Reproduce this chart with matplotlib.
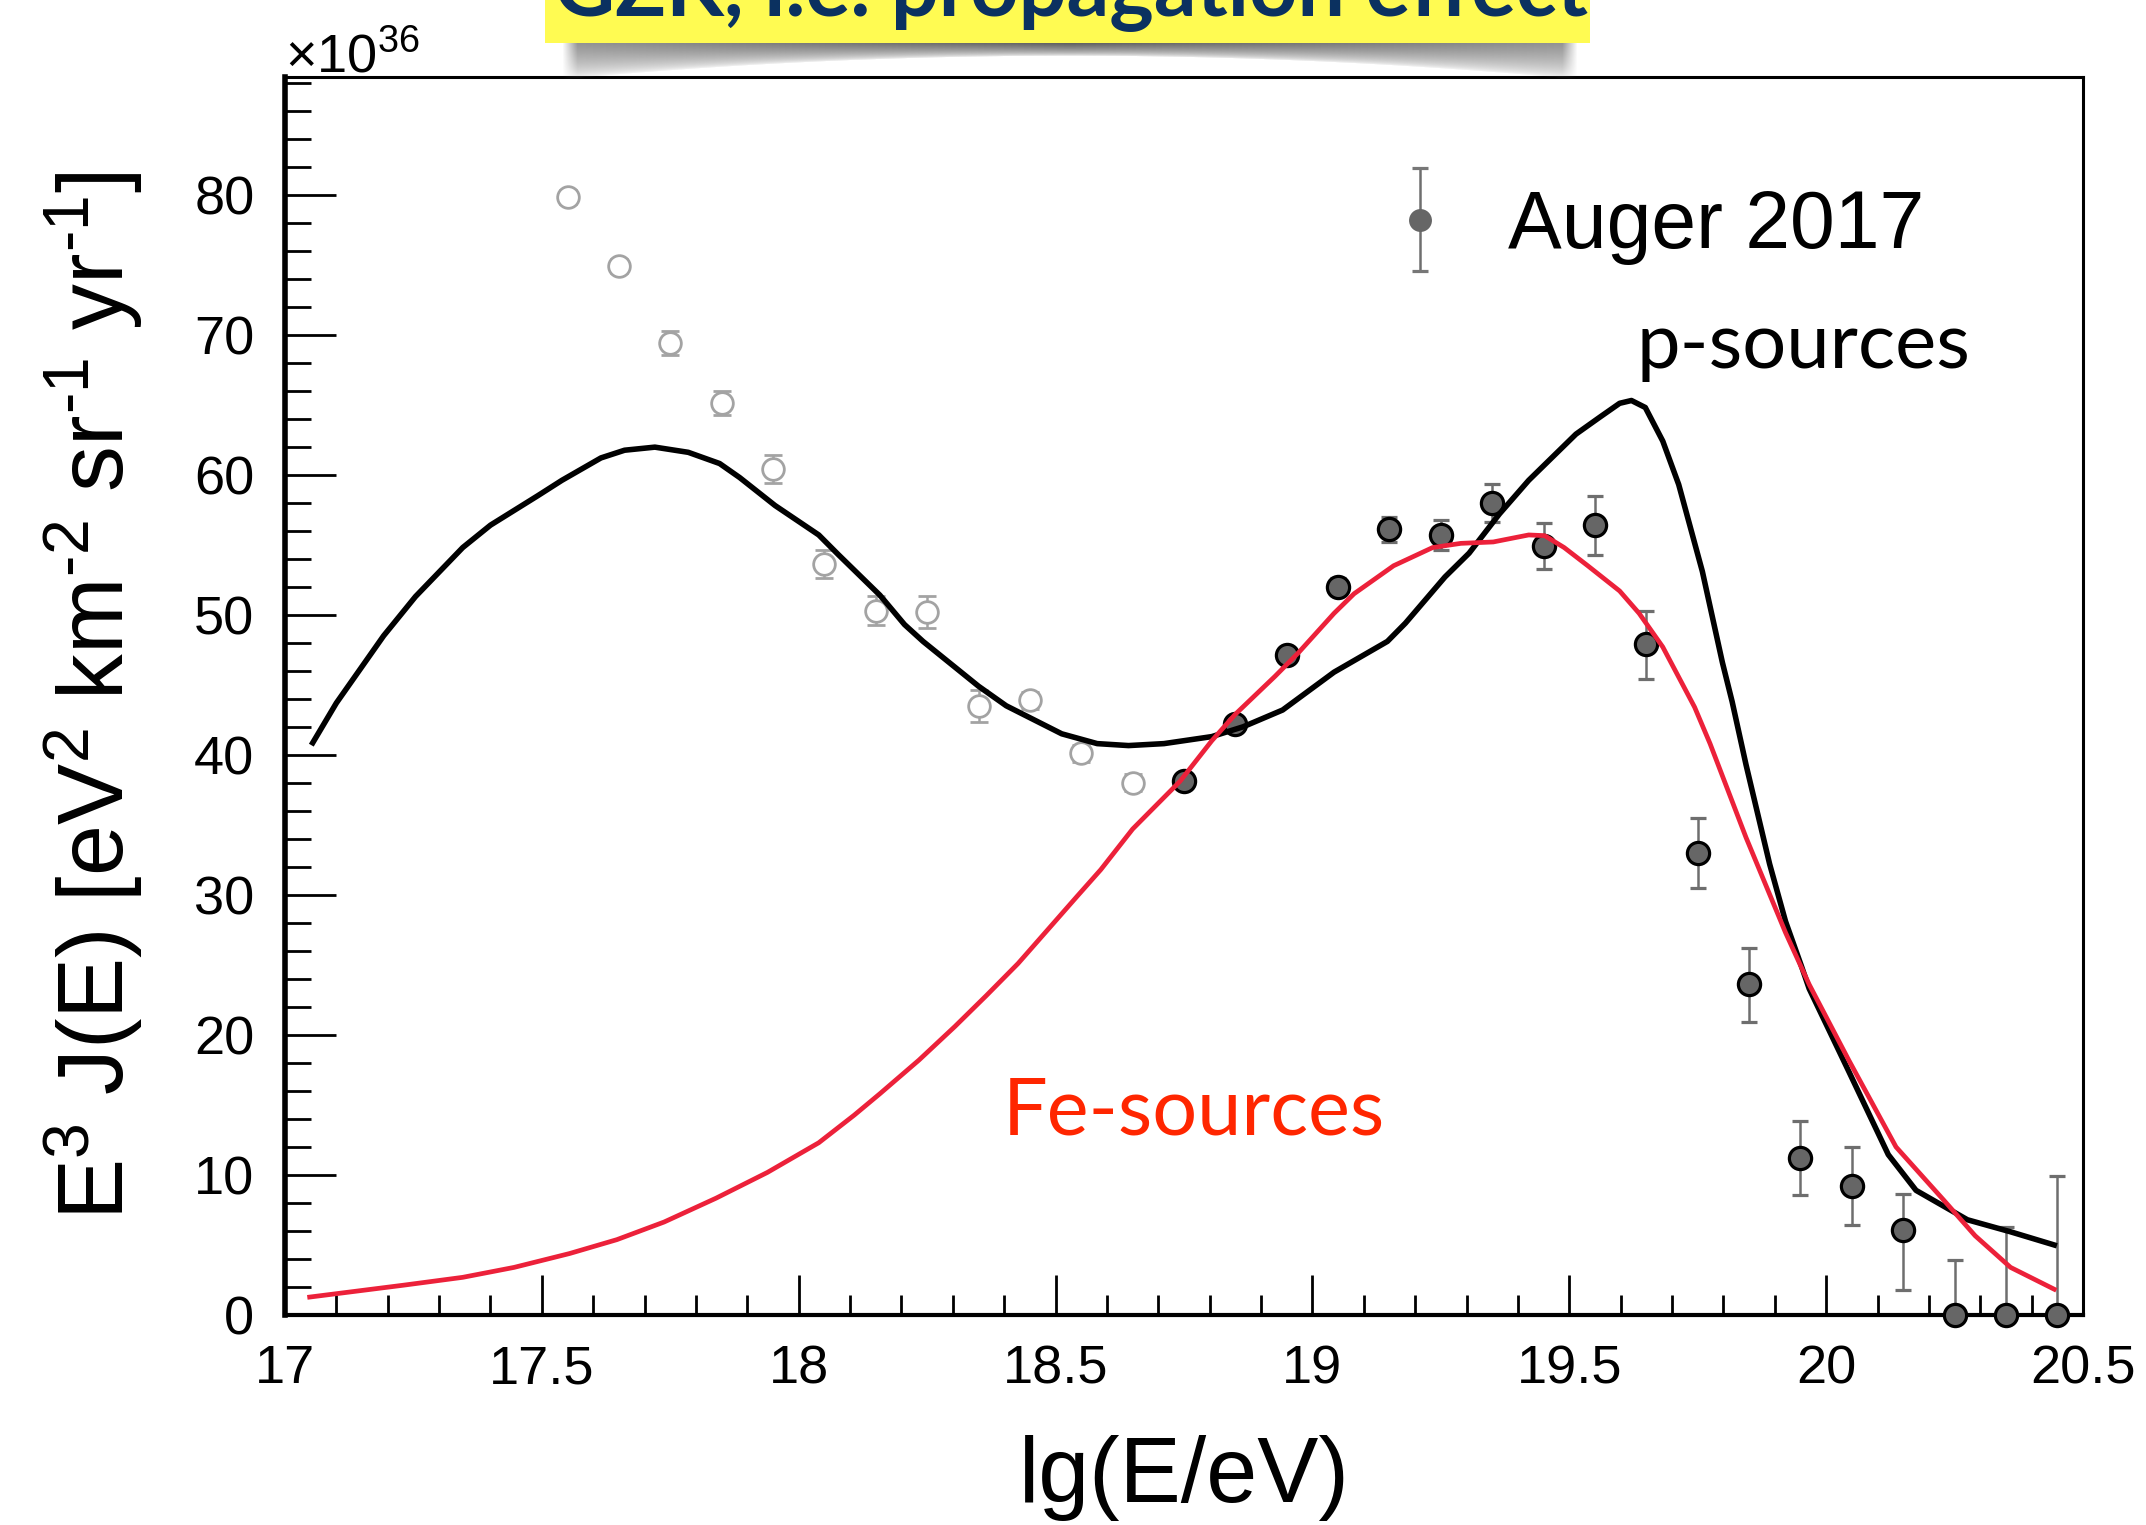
import numpy as np
import matplotlib
matplotlib.use('Agg')
import matplotlib.pyplot as plt
from matplotlib.patches import Rectangle
from matplotlib.lines import Line2D
from matplotlib.legend_handler import HandlerErrorbar
from matplotlib.container import ErrorbarContainer
from matplotlib.ticker import MultipleLocator

plt.rcParams['font.family'] = ['Liberation Sans', 'DejaVu Sans']
plt.rcParams['mathtext.fontset'] = 'custom'
plt.rcParams['mathtext.rm'] = 'Liberation Sans'
plt.rcParams['mathtext.it'] = 'Liberation Sans:italic'
plt.rcParams['mathtext.default'] = 'regular'

# ---------------- data ----------------
# low-energy (open) points
open_x = [17.55, 17.65, 17.75, 17.85, 17.95, 18.05, 18.15, 18.25, 18.35, 18.45, 18.55, 18.65]
open_y = [79.8, 74.9, 69.4, 65.1, 60.4, 53.6, 50.3, 50.2, 43.5, 43.9, 40.1, 38.0]
open_err = [0.5, 0.5, 0.85, 0.85, 1.0, 1.0, 1.05, 1.13, 1.13, 0.6, 0.6, 0.6]

# Auger 2017 (filled) points
auger_x = [18.75, 18.85, 18.95, 19.05, 19.15, 19.25, 19.35, 19.45, 19.55,
           19.65, 19.75, 19.85, 19.95, 20.05, 20.15, 20.25, 20.35, 20.45]
auger_y = [38.1, 42.2, 47.1, 52.0, 56.1, 55.7, 58.0, 54.9, 56.4,
           47.9, 33.0, 23.6, 11.2, 9.2, 6.1, 0.0, 0.0, 0.0]
auger_err_lo = [0.5, 0.5, 0.5, 0.6, 0.87, 1.1, 1.34, 1.65, 2.1,
                2.5, 2.5, 2.7, 2.63, 2.8, 4.3, 0.0, 0.0, 0.0]
auger_err_hi = [0.5, 0.5, 0.5, 0.6, 0.87, 1.1, 1.34, 1.65, 2.1,
                2.4, 2.5, 2.63, 2.63, 2.77, 2.54, 3.95, 6.27, 9.94]

# p-sources model
p_x = [17.054, 17.1, 17.192, 17.254, 17.346, 17.4, 17.492, 17.539, 17.615, 17.661,
       17.72, 17.785, 17.846, 17.885, 17.954, 18.039, 18.077, 18.158, 18.206, 18.242,
       18.35, 18.404, 18.512, 18.581, 18.642, 18.711, 18.804, 18.865, 18.942, 19.042,
       19.146, 19.181, 19.258, 19.305, 19.364, 19.421, 19.513, 19.559, 19.598, 19.621,
       19.648, 19.682, 19.713, 19.759, 19.798, 19.817, 19.844, 19.89, 19.921, 19.952,
       19.967, 20.044, 20.121, 20.175, 20.275, 20.359, 20.444]
p_y = [40.86, 43.7, 48.5, 51.3, 54.8, 56.4, 58.5, 59.6, 61.2, 61.75,
       61.97, 61.6, 60.8, 59.8, 57.8, 55.7, 54.3, 51.4, 49.3, 48.1,
       44.9, 43.5, 41.5, 40.8, 40.66, 40.8, 41.3, 42.0, 43.2, 45.9,
       48.1, 49.4, 52.7, 54.4, 57.2, 59.6, 62.9, 64.1, 65.1, 65.3,
       64.8, 62.4, 59.3, 53.1, 46.6, 43.8, 39.3, 32.2, 28.1, 24.9,
       23.3, 17.4, 11.45, 8.9, 6.8, 5.94, 5.0]

# Fe-sources model
fe_x = [17.048, 17.231, 17.346, 17.446, 17.554, 17.646, 17.738, 17.839, 17.939, 18.039,
        18.108, 18.158, 18.234, 18.304, 18.365, 18.427, 18.542, 18.588, 18.65,
        18.742, 18.804, 18.85, 18.927, 18.973, 19.042, 19.081, 19.158, 19.234, 19.289,
        19.352, 19.421, 19.452, 19.49, 19.536, 19.598, 19.636, 19.682, 19.744, 19.774,
        19.844, 19.921, 19.967, 20.044, 20.136, 20.229, 20.29, 20.359, 20.444]
fe_y = [1.28, 2.13, 2.69, 3.4, 4.39, 5.38, 6.64, 8.34, 10.18, 12.3,
        14.27, 15.8, 18.2, 20.6, 22.8, 25.1, 29.9, 31.8, 34.7,
        38.1, 41.0, 42.9, 45.6, 47.3, 50.1, 51.5, 53.5, 54.8, 55.1,
        55.2, 55.7, 55.65, 54.8, 53.5, 51.7, 50.1, 47.7, 43.4, 40.8,
        34.1, 27.3, 23.6, 18.2, 12.0, 8.2, 5.66, 3.4, 1.84]

x_ticks = [17, 17.5, 18, 18.5, 19, 19.5, 20, 20.5]
x_ticklabels = ['17', '17.5', '18', '18.5', '19', '19.5', '20', '20.5']
y_ticks = [0, 10, 20, 30, 40, 50, 60, 70, 80]

# ---------------- figure ----------------
W, H = 2146, 1525
fig = plt.figure(figsize=(W / 100, H / 100), dpi=100)
ax = fig.add_axes([285 / W, 1 - 1315 / H, (2083 - 285) / W, (1315 - 77) / H])

ax.set_xlim(17, 20.5)
ax.set_ylim(0, 88.4)

ax.errorbar(open_x, open_y, yerr=open_err, fmt='o', ms=15.6, mfc='white',
            mec='#a3a3a3', mew=2.0, ecolor='#a3a3a3', elinewidth=1.8,
            capsize=6.5, capthick=2.2, zorder=3)

eb = ax.errorbar(auger_x, auger_y, yerr=[auger_err_lo, auger_err_hi], fmt='o',
                 ms=16, mfc='#666666', mec='black', mew=2.3, ecolor='#6e6e6e',
                 elinewidth=1.8, capsize=6, capthick=2.2, zorder=3, clip_on=False)
for art in eb.get_children():
    art.set_clip_on(False)

ax.plot(p_x, p_y, color='black', lw=4.0, zorder=4, solid_joinstyle='round')
ax.plot(fe_x, fe_y, color='#EC213A', lw=3.4, zorder=5, solid_joinstyle='round')

# legend
leg = ax.legend([eb], ['Auger 2017'], loc='center left', bbox_to_anchor=(0.6087, 0.879),
                frameon=False, fontsize=58, handlelength=1.0, handletextpad=0.59,
                borderpad=0, borderaxespad=0,
                handler_map={ErrorbarContainer: HandlerErrorbar(xerr_size=0.5, yerr_size=0.64)})
for ln in leg.findobj(Line2D):
    if ln.get_marker() == 'o':
        ln.set_markeredgewidth(0)
        ln.set_markeredgecolor('#666666')
        ln.set_markerfacecolor('#666666')
        ln.set_markersize(16.5)
    else:
        ln.set_color('#777777')
        ln.set_markeredgecolor('#777777')

ax.text(0.7514, 0.765, 'p-sources', transform=ax.transAxes, fontsize=56,
        family=['Lato', 'DejaVu Sans'], color='black', va='baseline', ha='left')
ax.text(0.3991, 0.1454, 'Fe-sources', transform=ax.transAxes, fontsize=57,
        family=['Lato', 'DejaVu Sans'], color='#FF2600', va='baseline', ha='left')

# axes styling
for side, lw in [('left', 4.0), ('bottom', 3.0), ('top', 2.2), ('right', 2.2)]:
    ax.spines[side].set_linewidth(lw)
ax.set_xticks(x_ticks)
ax.set_xticklabels(x_ticklabels)
ax.set_yticks(y_ticks)
ax.xaxis.set_minor_locator(MultipleLocator(0.1))
ax.yaxis.set_minor_locator(MultipleLocator(2))
ax.tick_params(axis='x', which='major', direction='in', length=28.5, width=2.0,
               labelsize=39, pad=21, top=False)
ax.tick_params(axis='x', which='minor', direction='in', length=14.5, width=2.0, top=False)
ax.tick_params(axis='y', which='major', direction='in', length=37, width=2.0,
               labelsize=39, pad=22, right=False)
ax.tick_params(axis='y', which='minor', direction='in', length=19, width=2.0, right=False)

ax.text(0.0, 1.004, '×10$^{36}$', transform=ax.transAxes, fontsize=39,
        va='baseline', ha='left')

ax.set_xlabel('lg(E/eV)', fontsize=66)
ax.xaxis.set_label_coords(0.5, -0.0969)
ax.set_ylabel(r'E$^3$ J(E) [eV$^2$ km$^{\text{-}2}$ sr$^{\text{-}1}$ yr$^{\text{-}1}$]',
              fontsize=66)
ax.yaxis.set_label_coords(-0.078, 0.5)

# ---------------- banner (cut-off title) ----------------
sx0, sx1, sy0, sy1 = 562, 1578, 40, 80
ax_sh = fig.add_axes([sx0 / W, 1 - sy1 / H, (sx1 - sx0) / W, (sy1 - sy0) / H], zorder=4)
ax_sh.set_axis_off()
nr, nc = sy1 - sy0, sx1 - sx0
rr = np.linspace(0, 1, nr)[:, None]
uu = np.linspace(-1, 1, nc)[None, :]
depth = 0.4 + 0.6 * np.abs(uu) ** 2
a = np.clip(1 - rr / depth, 0, 1) ** 0.6
edge = np.clip((1 - np.abs(uu)) / 0.03, 0, 1)
dark = 0.22 + 0.3 * np.abs(uu)
img = np.zeros((nr, nc, 4))
img[..., 0] = dark
img[..., 1] = dark
img[..., 2] = dark
img[..., 3] = a * edge * 0.9
ax_sh.imshow(img, aspect='auto', interpolation='bilinear', extent=(0, 1, 0, 1))
ax_sh.set_xlim(0, 1)
ax_sh.set_ylim(0, 1)

fig.add_artist(Rectangle((545 / W, 1 - 43 / H), (1590 - 545) / W, 43 / H + 0.01,
                         transform=fig.transFigure, facecolor='#FFFB52',
                         edgecolor='none', zorder=5))
t = fig.text(1071 / W, 1 - 15 / H, 'GZK, i.e. propagation effect', ha='center',
             va='baseline', fontsize=58, color='#0B3160',
             family=['Lato', 'DejaVu Sans'], fontweight='bold', zorder=6)
fig.canvas.draw()
w = t.get_window_extent().width
t.set_fontsize(58 * 1033 / w)

fig.savefig('out.png', dpi=100)
